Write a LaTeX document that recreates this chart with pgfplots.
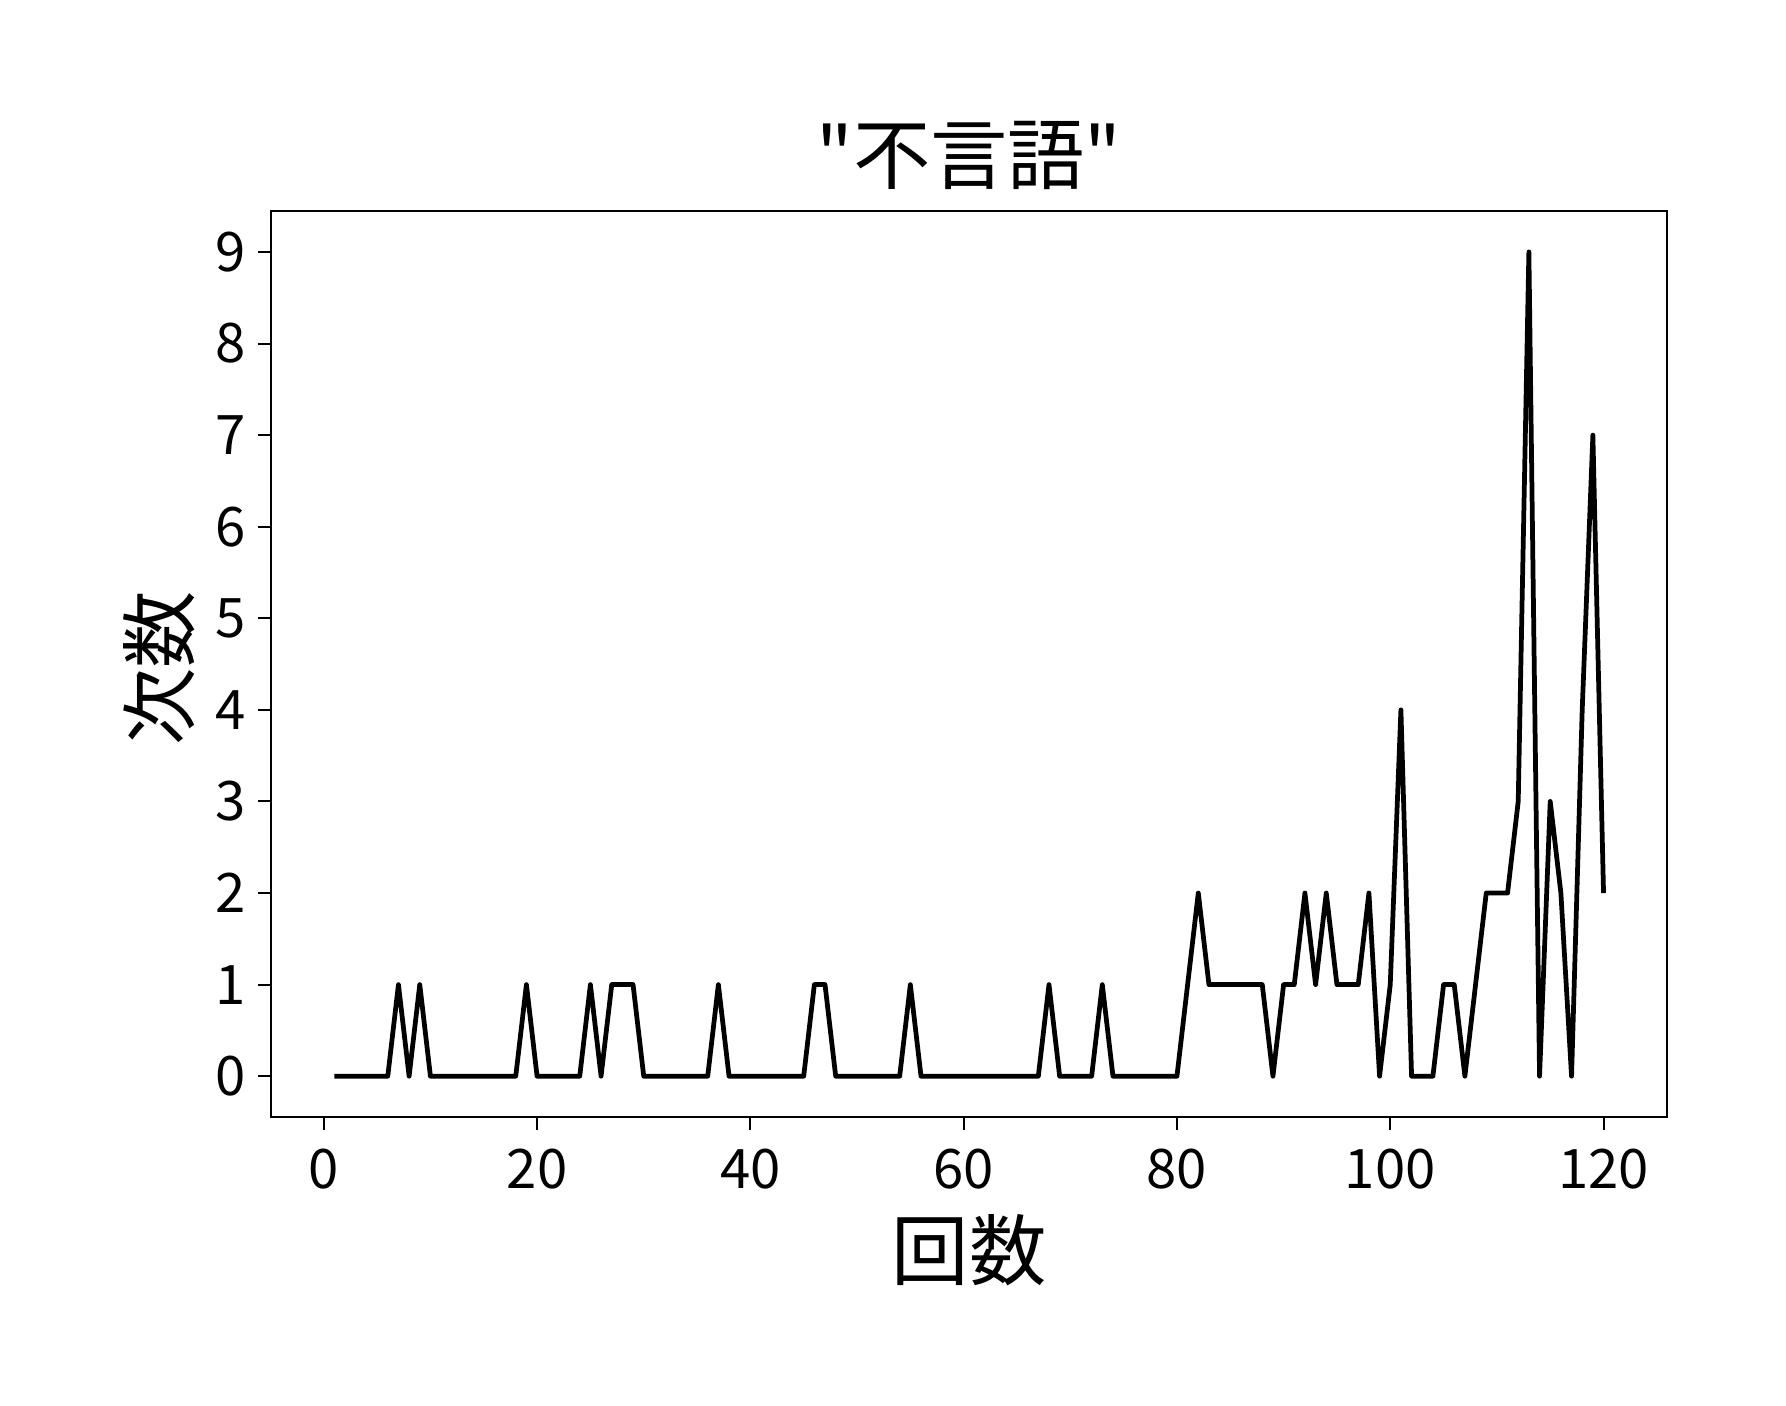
\documentclass[border=0pt]{standalone}
\usepackage{fontspec}
\setmainfont{Noto Sans CJK JP}[Ligatures=TeXOff]
\usepackage{pgfplots}
\pgfplotsset{compat=1.18}

% counts per round, x = 1..120
\pgfplotstableread{
x y
1 0
2 0
3 0
4 0
5 0
6 0
7 1
8 0
9 1
10 0
11 0
12 0
13 0
14 0
15 0
16 0
17 0
18 0
19 1
20 0
21 0
22 0
23 0
24 0
25 1
26 0
27 1
28 1
29 1
30 0
31 0
32 0
33 0
34 0
35 0
36 0
37 1
38 0
39 0
40 0
41 0
42 0
43 0
44 0
45 0
46 1
47 1
48 0
49 0
50 0
51 0
52 0
53 0
54 0
55 1
56 0
57 0
58 0
59 0
60 0
61 0
62 0
63 0
64 0
65 0
66 0
67 0
68 1
69 0
70 0
71 0
72 0
73 1
74 0
75 0
76 0
77 0
78 0
79 0
80 0
81 1
82 2
83 1
84 1
85 1
86 1
87 1
88 1
89 0
90 1
91 1
92 2
93 1
94 2
95 1
96 1
97 1
98 2
99 0
100 1
101 4
102 0
103 0
104 0
105 1
106 1
107 0
108 1
109 2
110 2
111 2
112 3
113 9
114 0
115 3
116 2
117 0
118 4
119 7
120 2
}\counts

\begin{document}
\begin{tikzpicture}
\path[use as bounding box] (-2.71,-2.876) rectangle (15.15,11.174);
\begin{axis}[scale only axis,width=13.96cm,height=9.067cm,
  xmin=-4.95,xmax=125.95,ymin=-0.45,ymax=9.45,
  xtick={0,20,...,120},ytick={0,1,...,9},
  tick pos=left,tick align=outside,
  major tick length=0.13cm,
  tick style={black,line width=0.57pt},
  axis line style={line width=0.57pt},
  /pgf/number format/assume math mode=true,
  tick label style={font=\fontsize{15.5}{18}\selectfont},
  xticklabel style={yshift=-0.06cm},
  title={"不言語"},
  title style={at={(axis description cs:0.5,1.038)},anchor=center,
    font=\fontsize{22}{26}\selectfont},
  xlabel={回数},
  xlabel style={at={(axis description cs:0.5,-0.1462)},anchor=center,
    font=\fontsize{22}{26}\selectfont},
  ylabel={次数},
  ylabel style={at={(axis description cs:-0.0802,0.495)},anchor=center,
    font=\fontsize{22}{26}\selectfont}]
\addplot[black,line width=1.35pt,line join=round,no marks] table[x=x,y=y] {\counts};
\end{axis}
\end{tikzpicture}
\end{document}
